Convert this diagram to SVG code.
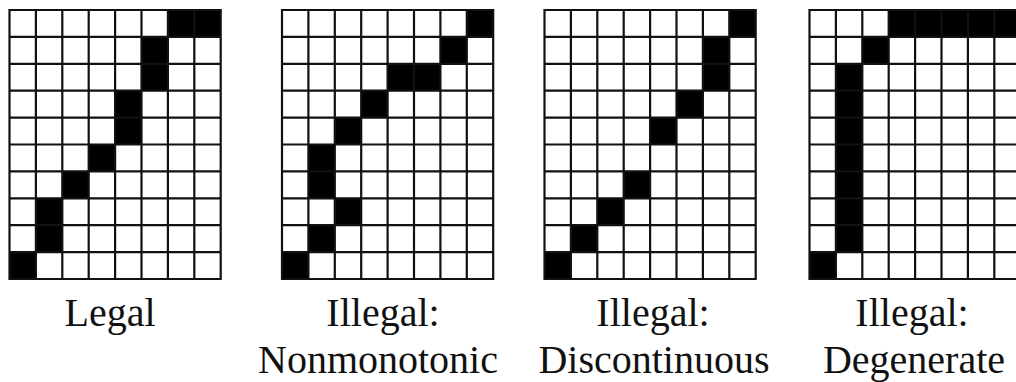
<svg xmlns="http://www.w3.org/2000/svg" xmlns:xlink="http://www.w3.org/1999/xlink" width="1016" height="382" viewBox="0 0 1016 382">
<style>
.grid{fill:none;stroke:#111;stroke-width:2.2;stroke-linecap:square}
.on{fill:#000}
.lbl{font-family:"Liberation Serif","Times New Roman",serif;font-size:40px;fill:#111;text-anchor:middle}
</style>
<defs>
<path id="g" class="grid" d="M0 0V269M26.4 0V269M52.8 0V269M79.2 0V269M105.6 0V269M132 0V269M158.4 0V269M184.8 0V269M211.2 0V269M0 0H211.2M0 26.9H211.2M0 53.8H211.2M0 80.7H211.2M0 107.6H211.2M0 134.5H211.2M0 161.4H211.2M0 188.3H211.2M0 215.2H211.2M0 242.1H211.2M0 269H211.2"/>
</defs>
<rect width="1016" height="382" fill="#fff"/>
<g id="legal" transform="translate(9.5,10)">
<rect class="on" x="158.4" y="0" width="52.8" height="26.9"/>
<rect class="on" x="132" y="26.9" width="26.4" height="53.8"/>
<rect class="on" x="105.6" y="80.7" width="26.4" height="53.8"/>
<rect class="on" x="79.2" y="134.5" width="26.4" height="26.9"/>
<rect class="on" x="52.8" y="161.4" width="26.4" height="26.9"/>
<rect class="on" x="26.4" y="188.3" width="26.4" height="53.8"/>
<rect class="on" x="0" y="242.1" width="26.4" height="26.9"/>
<use xlink:href="#g" href="#g"/>
</g>
<g id="nonmonotonic" transform="translate(282,10)">
<rect class="on" x="184.8" y="0" width="26.4" height="26.9"/>
<rect class="on" x="158.4" y="26.9" width="26.4" height="26.9"/>
<rect class="on" x="105.6" y="53.8" width="52.8" height="26.9"/>
<rect class="on" x="79.2" y="80.7" width="26.4" height="26.9"/>
<rect class="on" x="52.8" y="107.6" width="26.4" height="26.9"/>
<rect class="on" x="26.4" y="134.5" width="26.4" height="53.8"/>
<rect class="on" x="52.8" y="188.3" width="26.4" height="26.9"/>
<rect class="on" x="26.4" y="215.2" width="26.4" height="26.9"/>
<rect class="on" x="0" y="242.1" width="26.4" height="26.9"/>
<use xlink:href="#g" href="#g"/>
</g>
<g id="discontinuous" transform="translate(544.5,10)">
<rect class="on" x="184.8" y="0" width="26.4" height="26.9"/>
<rect class="on" x="158.4" y="26.9" width="26.4" height="53.8"/>
<rect class="on" x="132" y="80.7" width="26.4" height="26.9"/>
<rect class="on" x="105.6" y="107.6" width="26.4" height="26.9"/>
<rect class="on" x="79.2" y="161.4" width="26.4" height="26.9"/>
<rect class="on" x="52.8" y="188.3" width="26.4" height="26.9"/>
<rect class="on" x="26.4" y="215.2" width="26.4" height="26.9"/>
<rect class="on" x="0" y="242.1" width="26.4" height="26.9"/>
<use xlink:href="#g" href="#g"/>
</g>
<g id="degenerate" transform="translate(809.5,10)">
<rect class="on" x="79.2" y="0" width="132" height="26.9"/>
<rect class="on" x="52.8" y="26.9" width="26.4" height="26.9"/>
<rect class="on" x="26.4" y="53.8" width="26.4" height="188.3"/>
<rect class="on" x="0" y="242.1" width="26.4" height="26.9"/>
<use xlink:href="#g" href="#g"/>
</g>
<g id="labels">
<text class="lbl" x="110" y="326">Legal</text>
<text class="lbl" x="383" y="326">Illegal:</text>
<text class="lbl" x="378" y="373">Nonmonotonic</text>
<text class="lbl" x="653" y="326">Illegal:</text>
<text class="lbl" x="654" y="373">Discontinuous</text>
<text class="lbl" x="912" y="326">Illegal:</text>
<text class="lbl" x="914" y="373">Degenerate</text>
</g>
</svg>
